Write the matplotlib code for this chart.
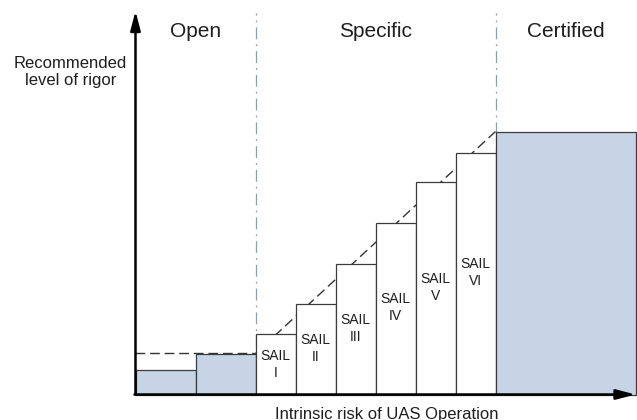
import matplotlib
matplotlib.use('Agg')
import matplotlib.pyplot as plt
from matplotlib.patches import Rectangle

plt.rcParams['font.family'] = ['Liberation Sans', 'DejaVu Sans']

# ---- data ----
categories = ['Open (low)', 'Open (high)', 'SAIL I', 'SAIL II', 'SAIL III',
              'SAIL IV', 'SAIL V', 'SAIL VI', 'Certified']
bar_labels = ['', '', 'SAIL\nI', 'SAIL\nII', 'SAIL\nIII', 'SAIL\nIV',
              'SAIL\nV', 'SAIL\nVI', '']
risk_widths = [3, 3, 2, 2, 2, 2, 2, 2, 7]
rigor_levels = [2.45, 4.1, 6.1, 9.1, 13.1, 17.2, 21.3, 24.2, 26.3]
label_heights = [0, 0, 3.0, 4.6, 6.6, 8.7, 10.7, 12.2, 0]
regions = ['Open', 'Specific', 'Certified']
region_bounds = [0, 6, 18, 25]
trend_x = [0, 6, 18]
trend_y = [4.1, 4.1, 26.3]

# ---- styling ----
blue_fill = '#c7d4e6'
edge = '#3c3c3c'
divider_color = '#8d9cb8'
text_color = '#1e1e1e'

W, H = 637, 420
ox, oy = 135.5, 25.5      # origin in pixels (from left, from bottom)
xu, yu = 20.0, 10.0        # pixels per data unit

fig = plt.figure(figsize=(W / 100, H / 100), dpi=100)
ax = fig.add_axes([0, 0, 1, 1])
ax.set_xlim(-ox / xu, (W - ox) / xu)
ax.set_ylim(-oy / yu, (H - oy) / yu)
ax.axis('off')

# trend dashed line (behind bars)
ax.plot(trend_x, trend_y, color='#333333', lw=1.0,
        linestyle=(0, (7, 3.5)), zorder=1)

# region dividers
for b in region_bounds[1:-1]:
    ax.plot([b, b], [0, 38.15], color=divider_color, lw=0.9,
            linestyle=(0, (9.5, 4, 1.5, 4)), zorder=1)

# bars
x = 0
for cat, w, h, lab, lh in zip(categories, risk_widths, rigor_levels,
                              bar_labels, label_heights):
    fc = 'white' if cat.startswith('SAIL') else blue_fill
    ax.add_patch(Rectangle((x, 0), w, h, facecolor=fc, edgecolor=edge,
                           lw=0.9, zorder=2))
    if lab:
        ax.text(x + w / 2, lh, lab, ha='center', va='center', fontsize=10,
                color=text_color, zorder=3)
    x += w

# region titles
for name, a, b in zip(regions, region_bounds[:-1], region_bounds[1:]):
    ax.text((a + b) / 2, 35.75, name, ha='center', va='baseline',
            fontsize=15, color=text_color)

# axes arrows
arrow_kw = dict(arrowstyle='-|>,head_length=1.15,head_width=0.3',
                mutation_scale=10, lw=1.8, color='black',
                shrinkA=0, shrinkB=0)
ax.annotate('', xy=(0, 38.35), xytext=(0, 0), arrowprops=arrow_kw, zorder=4)
ax.annotate('', xy=(25.0, 0), xytext=(-0.05, 0), arrowprops=arrow_kw, zorder=4)

# axis labels
ax.text(-3.25, 32.25, 'Recommended\nlevel of rigor', ha='center',
        va='center', fontsize=12, color=text_color)
ax.text(12.55, -2.4, 'Intrinsic risk of UAS Operation', ha='center',
        va='baseline', fontsize=12, color=text_color)

fig.savefig('out.png', dpi=100)
